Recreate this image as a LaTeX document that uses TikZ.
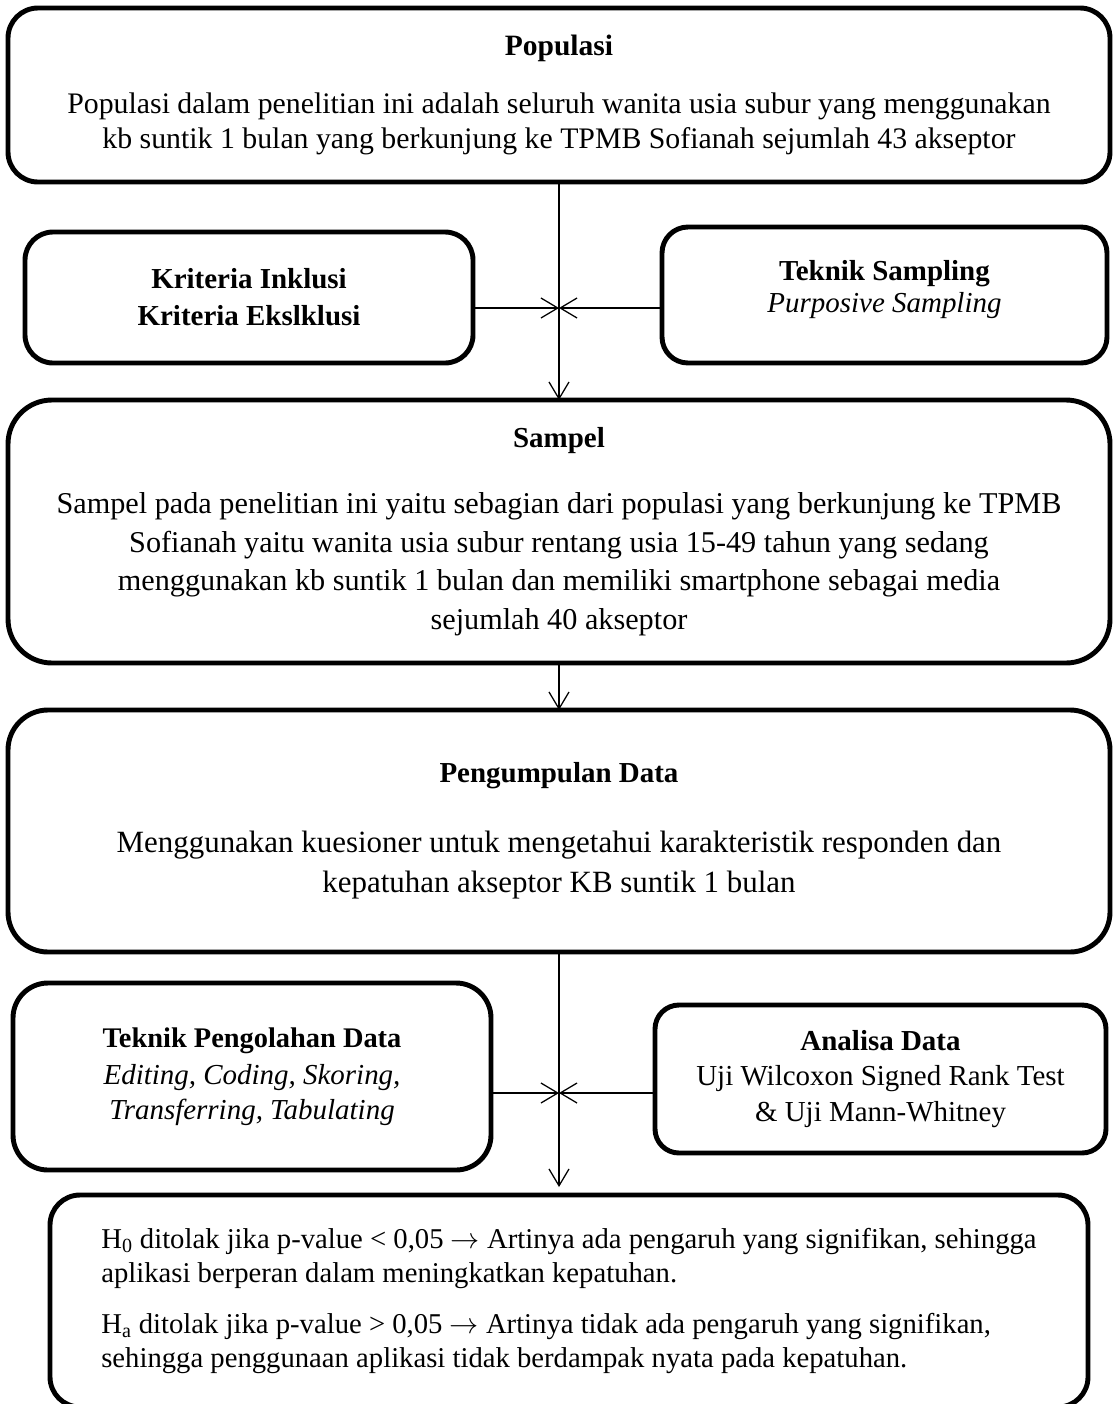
\documentclass[tikz,border=0pt]{standalone}
\usepackage{fontspec}
\setmainfont{Liberation Serif}
\usetikzlibrary{positioning,arrows.meta}

\tikzset{
  box/.style={draw, line width=3.5pt, align=center, inner sep=0pt, outer sep=0pt},
  conn/.style={line width=0.9pt, -{Straight Barb[length=0.42cm,width=0.5cm]}},
}

\begin{document}
\begin{tikzpicture}[font=\fontsize{20.6}{25}\selectfont]
      \useasboundingbox (0,0) rectangle (27.925,-35.1);
      \node[box, rounded corners=0.75cm, minimum width=27.55cm, minimum height=4.35cm,
            font=\fontsize{21.2}{25}\selectfont] (pop) at (13.975,-2.375)
        {\textbf{\fontsize{21}{25}\selectfont Populasi}\\[0.55cm]
         Populasi dalam penelitian ini adalah seluruh wanita usia subur yang menggunakan\\
         kb suntik 1 bulan yang berkunjung ke TPMB Sofianah sejumlah 43 akseptor};
      \node[box, rounded corners=0.7cm, minimum width=11.2cm, minimum height=3.275cm,
            below=1.25cm of pop.south west, anchor=north west, xshift=0.425cm] (krit)
        {\textbf{Kriteria Inklusi}\\[0.05cm]\textbf{Kriteria Ekslklusi}};
      \node[box, rounded corners=0.65cm, minimum width=11.125cm, minimum height=3.4cm,
            below=1.125cm of pop.south east, anchor=north east, xshift=-0.075cm] (tek)
        {\textbf{Teknik Sampling}\\[-0.1cm]\textit{Purposive Sampling}\\[-0.45cm]};
      \node[box, rounded corners=1.1cm, minimum width=27.55cm, minimum height=6.575cm,
            below=5.45cm of pop, font=\fontsize{21.5}{27.5}\selectfont] (sampel)
        {\textbf{\fontsize{20.6}{25}\selectfont Sampel}\\[0.7cm]
         Sampel pada penelitian ini yaitu sebagian dari populasi yang berkunjung ke TPMB\\
         Sofianah yaitu wanita usia subur rentang usia 15-49 tahun yang sedang\\
         menggunakan kb suntik 1 bulan dan memiliki smartphone sebagai media\\
         sejumlah 40 akseptor};
      \node[box, rounded corners=1cm, minimum width=27.55cm, minimum height=6.05cm,
            below=1.175cm of sampel, font=\fontsize{22}{28.5}\selectfont] (kumpul)
        {\textbf{\fontsize{20.6}{25}\selectfont Pengumpulan Data}\\[0.75cm]
         Menggunakan kuesioner untuk mengetahui karakteristik responden dan\\
         kepatuhan akseptor KB suntik 1 bulan};
      \node[box, rounded corners=0.875cm, minimum width=11.95cm, minimum height=4.675cm,
            below=0.775cm of kumpul.south west, anchor=north west, xshift=0.125cm] (olah)
        {\textbf{\fontsize{20.2}{25}\selectfont Teknik Pengolahan Data}\\[0.05cm]
         \textit{Editing, Coding, Skoring,}\\
         \textit{Transferring, Tabulating}};
      \node[box, rounded corners=0.6cm, minimum width=11.275cm, minimum height=3.7cm,
            below=1.325cm of kumpul.south east, anchor=north east, xshift=-0.1cm] (analisa)
        {\textbf{Analisa Data}\\
         Uji Wilcoxon Signed Rank Test\\
         \& Uji Mann-Whitney};
      \node[box, rounded corners=0.75cm, minimum width=25.95cm, minimum height=5.3cm, align=left,
            below=6.075cm of kumpul, xshift=0.25cm, font=\fontsize{20.4}{24.5}\selectfont] (hipo)
        {H\textsubscript{0} ditolak jika p-value < 0,05 $\rightarrow$ Artinya ada pengaruh yang signifikan, sehingga\\
         aplikasi berperan dalam meningkatkan kepatuhan.\\[0.4cm]
         H\textsubscript{a} ditolak jika p-value > 0,05 $\rightarrow$ Artinya tidak ada pengaruh yang signifikan,\\
         sehingga penggunaan aplikasi tidak berdampak nyata pada kepatuhan.};
      \coordinate[below=3.15cm of pop.south] (meet1);
      \coordinate[below=3.525cm of kumpul.south] (meet2);
      \draw[conn] (pop.south) -- (sampel.north);
      \draw[conn] (krit.east |- meet1) -- (meet1);
      \draw[conn] (tek.west |- meet1) -- (meet1);
      \draw[conn] (sampel.south) -- (kumpul.north);
      \draw[conn, shorten >=0.2cm] (kumpul.south) -- (kumpul.south |- hipo.north);
      \draw[conn] (olah.east |- meet2) -- (meet2);
      \draw[conn] (analisa.west |- meet2) -- (meet2);
\end{tikzpicture}
\end{document}
